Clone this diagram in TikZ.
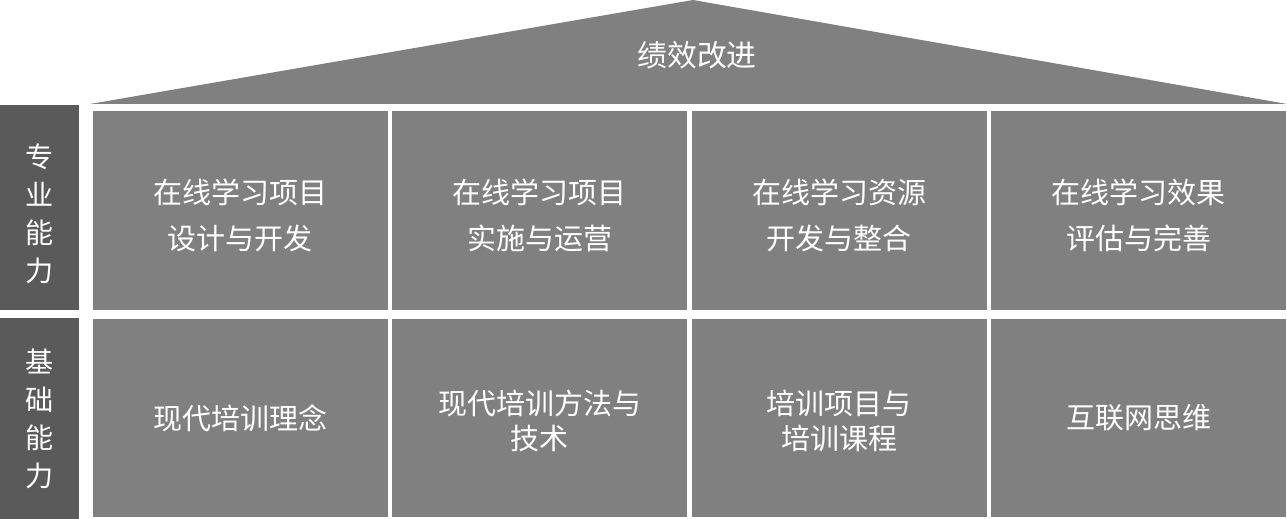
\documentclass[tikz,border=0pt]{standalone}
\usepackage{fontspec}
\newfontfamily\cjk{Noto Sans CJK SC}
\definecolor{cellgray}{HTML}{808080}
\definecolor{sidegray}{HTML}{5A5A5A}

\begin{document}
\begin{tikzpicture}[x=0.02cm,y=-0.02cm,
    cell/.style={fill=cellgray, inner sep=0pt,
      minimum width=5.91cm, minimum height=3.98cm},
    side/.style={fill=sidegray, inner sep=0pt, minimum width=1.58cm},
    celltext/.style={text=white, align=center, inner sep=0pt,
      font=\cjk\fontsize{16.5}{26.2}\selectfont},
    lowtext/.style={celltext, font=\cjk\fontsize{16.5}{19.9}\selectfont},
    sidetext/.style={celltext, font=\cjk\fontsize{16}{21.6}\selectfont}]
    \useasboundingbox (0,0) rectangle (1287,519);
    % roof
    \fill[cellgray] (90,104) -- (693,0) -- (1287,104) -- cycle;
    \node[text=white, font=\cjk\fontsize{17}{20}\selectfont] (roof) at (697,55) {绩效改进};
    % side labels
    \node[side, minimum height=4.1cm] (pro) at (39.5,207.5) {};
    \node[side, minimum height=4.02cm] (base) at (39.5,418.5) {};
    \node[sidetext] (protext) at ([yshift=-0.12cm]pro.center) {专\\业\\能\\力};
    \node[sidetext] (basetext) at (base.center) {基\\础\\能\\力};
    % professional row
    \node[cell] (p1) at (240.25,210.5) {};
    \node[cell] (p2) at (539.75,210.5) {};
    \node[cell] (p3) at (839.25,210.5) {};
    \node[cell] (p4) at (1138.75,210.5) {};
    \node[celltext] (p1text) at ([yshift=-0.1cm]p1.center) {在线学习项目\\设计与开发};
    \node[celltext] (p2text) at ([yshift=-0.1cm]p2.center) {在线学习项目\\实施与运营};
    \node[celltext] (p3text) at ([yshift=-0.1cm]p3.center) {在线学习资源\\开发与整合};
    \node[celltext] (p4text) at ([yshift=-0.1cm]p4.center) {在线学习效果\\评估与完善};
    % basic row
    \node[cell] (b1) at (240.25,418) {};
    \node[cell] (b2) at (539.75,418) {};
    \node[cell] (b3) at (839.25,418) {};
    \node[cell] (b4) at (1138.75,418) {};
    \node[lowtext] (b1text) at (b1.center) {现代培训理念};
    \node[lowtext] (b2text) at ([yshift=-0.05cm]b2.center) {现代培训方法与\\技术};
    \node[lowtext] (b3text) at ([yshift=-0.05cm]b3.center) {培训项目与\\培训课程};
    \node[lowtext] (b4text) at (b4.center) {互联网思维};
\end{tikzpicture}
\end{document}
